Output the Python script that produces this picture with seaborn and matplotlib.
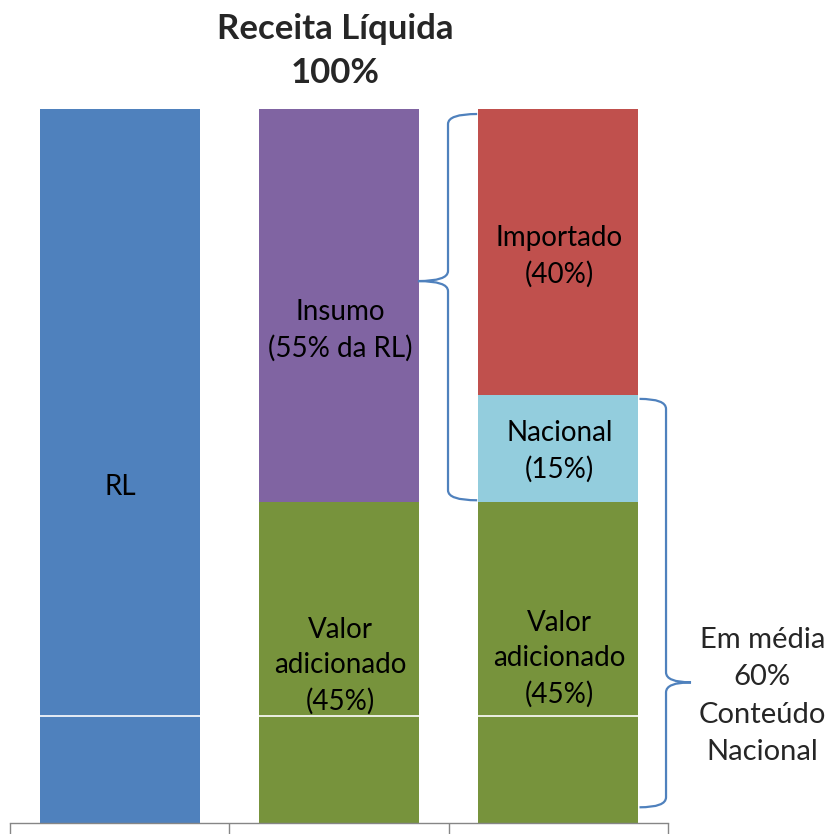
import numpy as np
import pandas as pd
import matplotlib
matplotlib.use('Agg')
import matplotlib.pyplot as plt
from matplotlib.path import Path
from matplotlib.patches import PathPatch
import seaborn as sns

# dados
colunas = ['Receita', 'Composição', 'Origem']
coluna_seg = ['Receita', 'Composição', 'Composição', 'Origem', 'Origem', 'Origem']
segmentos = ['RL', 'Valor adicionado', 'Insumo', 'Valor adicionado', 'Nacional', 'Importado']
valores = [100, 45, 55, 45, 15, 40]
rotulos = ['RL', 'Valor\nadicionado\n(45%)', 'Insumo\n(55% da RL)',
           'Valor\nadicionado\n(45%)', 'Nacional\n(15%)', 'Importado\n(40%)']
ajuste_rotulo = [-3, -0.5, -3.5, 0.5, -0.5, -0.6]
cores = {'RL': '#4F81BD', 'Insumo': '#8064A2', 'Valor adicionado': '#77933C',
         'Nacional': '#93CDDD', 'Importado': '#C0504D'}
ordem_hue = ['RL', 'Insumo', 'Importado', 'Nacional', 'Valor adicionado']
linha_branca = 15
titulo = 'Receita Líquida\n100%'
nota = 'Em média\n60%\nConteúdo\nNacional'

df = pd.DataFrame({'coluna': coluna_seg, 'segmento': segmentos, 'valor': valores, 'rotulo': rotulos})
df['topo'] = df.groupby('coluna')['valor'].cumsum()
df['base'] = df['topo'] - df['valor']
df['meio'] = df['base'] + df['valor'] / 2 + ajuste_rotulo

sns.set_style('white')
plt.rcParams['font.family'] = ['Lato', 'DejaVu Sans']

fig = plt.figure(figsize=(8.3, 8.34), dpi=100)
ax = fig.add_axes([10 / 830, 11 / 834, 658 / 830, 714 / 834])

sns.barplot(data=df, x='coluna', y='topo', hue='segmento', order=colunas,
            hue_order=ordem_hue, palette=cores, dodge=False, width=0.73,
            saturation=1, linewidth=0, legend=False, ax=ax)

ax.axhline(linha_branca, color='white', lw=1.2, zorder=5)

for _, r in df.iterrows():
    ax.text(colunas.index(r['coluna']) + 0.005, r['meio'], r['rotulo'], ha='center', va='center',
            fontsize=20, color='black', linespacing=1.45, zorder=6)

ax.set_xlim(-0.5, 2.5)
ax.set_ylim(0, 100)
ax.set_xlabel('')
ax.set_ylabel('')
ax.set_yticks([])
ax.set_xticks([-0.5, 0.5, 1.5, 2.5])
ax.set_xticklabels([])
ax.tick_params(axis='x', direction='out', length=8, width=1, color='#868686', bottom=True)
for s in ['top', 'left', 'right']:
    ax.spines[s].set_visible(False)
ax.spines['bottom'].set_color('#868686')
ax.spines['bottom'].set_linewidth(1)


def chave(ax, x_ponta_fim, x_eixo, x_bico, y_topo, y_base, y_meio, r=1.4):
    verts = [(x_ponta_fim, y_topo), (x_eixo, y_topo), (x_eixo, y_topo - r),
             (x_eixo, y_meio + r), (x_eixo, y_meio), (x_bico, y_meio),
             (x_eixo, y_meio), (x_eixo, y_meio - r),
             (x_eixo, y_base + r), (x_eixo, y_base), (x_ponta_fim, y_base)]
    codes = [Path.MOVETO, Path.CURVE3, Path.CURVE3,
             Path.LINETO, Path.CURVE3, Path.CURVE3,
             Path.CURVE3, Path.CURVE3,
             Path.LINETO, Path.CURVE3, Path.CURVE3]
    ax.add_patch(PathPatch(Path(verts, codes), fill=False, edgecolor='#4F81BD',
                           lw=1.6, clip_on=False, zorder=7))


meia = 0.73 / 2
imp = df[df['segmento'] == 'Importado'].iloc[0]
nac = df[df['segmento'] == 'Nacional'].iloc[0]
# chave esquerda: insumo = importado + nacional
chave(ax, 2 - meia - 0.005, 1.497, 1.36, imp['topo'] - 0.7, nac['base'] + 0.2, 75.9)
# chave direita: conteúdo nacional
chave(ax, 2 + meia + 0.005, 2.491, 2.605, nac['topo'] - 0.6, 2.2, 19.7)

ax.text(2.93, 17.8, nota, ha='center', va='center', fontsize=21, linespacing=1.55,
        clip_on=False)

fig.text(335 / 830, 1 - 51 / 834, titulo, ha='center', va='center', fontsize=25,
         fontweight='bold', linespacing=1.45)

fig.savefig('out.png', dpi=100)
